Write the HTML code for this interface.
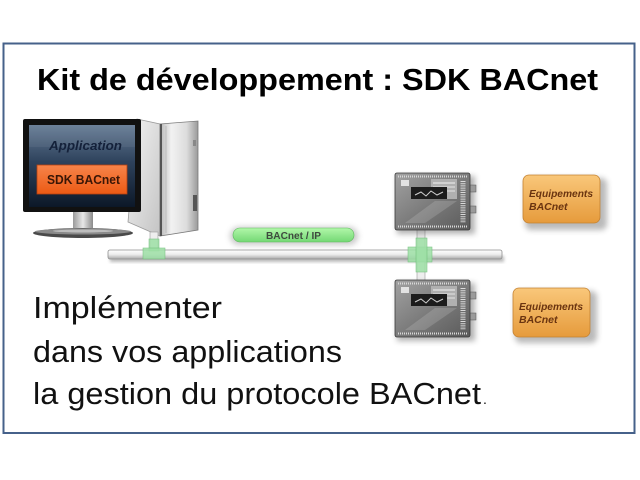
<!DOCTYPE html>
<html><head><meta charset="utf-8">
<style>
html,body{margin:0;padding:0;background:#fff;}
svg{display:block;}
</style></head>
<body>
<svg width="640" height="480" viewBox="0 0 640 480" xmlns="http://www.w3.org/2000/svg">
<defs>
  <linearGradient id="scr" x1="0" y1="0" x2="0" y2="1">
    <stop offset="0" stop-color="#647a94"/>
    <stop offset="0.45" stop-color="#2e425c"/>
    <stop offset="1" stop-color="#0c1828"/>
  </linearGradient>
  <linearGradient id="sdk" x1="0" y1="0" x2="0" y2="1">
    <stop offset="0" stop-color="#f7844a"/>
    <stop offset="1" stop-color="#ec5a14"/>
  </linearGradient>
  <linearGradient id="towerF" x1="0" y1="0" x2="1" y2="0">
    <stop offset="0" stop-color="#b8b8b8"/>
    <stop offset="0.3" stop-color="#f2f2f2"/>
    <stop offset="0.7" stop-color="#dcdcdc"/>
    <stop offset="1" stop-color="#9a9a9a"/>
  </linearGradient>
  <linearGradient id="towerS" x1="0" y1="0" x2="1" y2="1">
    <stop offset="0" stop-color="#f4f4f4"/>
    <stop offset="1" stop-color="#c4c4c4"/>
  </linearGradient>
  <linearGradient id="pipe" x1="0" y1="0" x2="0" y2="1">
    <stop offset="0" stop-color="#ffffff"/>
    <stop offset="0.5" stop-color="#ececec"/>
    <stop offset="1" stop-color="#a8a8a8"/>
  </linearGradient>
  <linearGradient id="pill" x1="0" y1="0" x2="0" y2="1">
    <stop offset="0" stop-color="#b2f7aa"/>
    <stop offset="1" stop-color="#74d874"/>
  </linearGradient>
  <linearGradient id="equip" x1="0" y1="0" x2="0" y2="1">
    <stop offset="0" stop-color="#f9c77a"/>
    <stop offset="1" stop-color="#e69b3c"/>
  </linearGradient>
  <linearGradient id="dev" x1="0" y1="0" x2="1" y2="1">
    <stop offset="0" stop-color="#a2a2a2"/>
    <stop offset="0.5" stop-color="#7c7c7c"/>
    <stop offset="1" stop-color="#5a5a5a"/>
  </linearGradient>
  <linearGradient id="neck" x1="0" y1="0" x2="1" y2="0">
    <stop offset="0" stop-color="#9a9a9a"/>
    <stop offset="0.5" stop-color="#e8e8e8"/>
    <stop offset="1" stop-color="#8a8a8a"/>
  </linearGradient>
  <filter id="blur" x="-30%" y="-30%" width="160%" height="160%">
    <feGaussianBlur stdDeviation="3"/>
  </filter>
  <filter id="blur2" x="-30%" y="-30%" width="160%" height="160%">
    <feGaussianBlur stdDeviation="1.5"/>
  </filter>
</defs>

<rect width="640" height="480" fill="#ffffff"/>

<!-- frame -->
<rect x="3.5" y="43.5" width="631" height="389.5" fill="none" stroke="#46618a" stroke-width="2"/>

<!-- title -->
<text x="37" y="90" font-family="Liberation Sans, sans-serif" font-weight="bold" font-size="31" fill="#000" textLength="561" lengthAdjust="spacingAndGlyphs">Kit de développement : SDK BACnet</text>

<!-- tower -->
<polygon points="137,119 160,124 160,236 128,222" fill="url(#towerS)" stroke="#9a9a9a" stroke-width="0.8"/>
<polygon points="160,124 198,121 198,230 160,236" fill="url(#towerF)" stroke="#7a7a7a" stroke-width="0.8"/>
<line x1="161" y1="124" x2="161" y2="236" stroke="#555" stroke-width="2"/>
<line x1="166" y1="126" x2="166" y2="233" stroke="#bdbdbd" stroke-width="1"/>
<rect x="193" y="195" width="4" height="16" fill="#555"/>
<rect x="193" y="140" width="3" height="6" fill="#888"/>

<!-- monitor -->
<rect x="23" y="119" width="118" height="93" rx="2" fill="#111"/>
<rect x="29" y="125" width="106" height="82" fill="url(#scr)"/>
<rect x="29" y="125" width="106" height="22" fill="#ffffff" opacity="0.06"/>
<text x="85.5" y="150" text-anchor="middle" font-family="Liberation Sans, sans-serif" font-weight="bold" font-style="italic" font-size="12.5" fill="#14213a" textLength="73" lengthAdjust="spacingAndGlyphs">Application</text>
<rect x="37" y="165" width="90" height="29" fill="url(#sdk)" stroke="#b84210" stroke-width="0.8"/>
<text x="83.5" y="184" text-anchor="middle" font-family="Liberation Sans, sans-serif" font-weight="bold" font-size="13" fill="#3a1606" textLength="73" lengthAdjust="spacingAndGlyphs">SDK BACnet</text>
<!-- stand -->
<rect x="73" y="212" width="20" height="16" fill="url(#neck)"/>
<ellipse cx="83" cy="233" rx="50" ry="5" fill="#4a4a4a"/>
<ellipse cx="83" cy="231.5" rx="48" ry="3" fill="#8a8a8a"/>
<ellipse cx="83" cy="231" rx="30" ry="1.5" fill="#bdbdbd"/>

<!-- pipe shadow -->
<rect x="110" y="256" width="394" height="6" fill="#777" opacity="0.5" filter="url(#blur2)"/>
<!-- pipe -->
<rect x="108" y="250" width="394" height="9" rx="2" fill="url(#pipe)" stroke="#8f8f8f" stroke-width="0.8"/>

<!-- tower connector -->
<rect x="150" y="232" width="8" height="18" fill="#eeeeee" stroke="#999" stroke-width="0.6"/>
<rect x="149" y="239" width="10" height="12" fill="#9ee0a6" opacity="0.85" stroke="#6cbc76" stroke-width="0.6"/>
<rect x="143" y="248" width="22" height="11" fill="#9ee0a6" opacity="0.85" stroke="#6cbc76" stroke-width="0.6"/>

<!-- vertical connector to devices -->
<rect x="417" y="229" width="8" height="53" fill="#eeeeee" stroke="#999" stroke-width="0.6"/>
<rect x="408" y="247" width="24" height="15" fill="#9ee0a6" opacity="0.85" stroke="#6cbc76" stroke-width="0.6"/>
<rect x="416" y="238" width="11" height="34" fill="#9ee0a6" opacity="0.85" stroke="#6cbc76" stroke-width="0.6"/>

<!-- BACnet/IP pill -->
<rect x="230" y="227" width="128" height="18" rx="9" fill="#888" opacity="0.45" filter="url(#blur)"/>
<rect x="233" y="228" width="121" height="14" rx="7" fill="url(#pill)" stroke="#5cb85c" stroke-width="0.6"/>
<text x="293.5" y="239" text-anchor="middle" font-family="Liberation Sans, sans-serif" font-weight="bold" font-size="10" fill="#3e4a3e" textLength="55" lengthAdjust="spacingAndGlyphs">BACnet / IP</text>

<!-- device 1 -->
<g transform="translate(395,173)">
  <rect x="2" y="3" width="78" height="58" fill="#555" opacity="0.45" filter="url(#blur)"/>
  <rect x="75" y="12" width="6" height="7" fill="#9a9a9a" stroke="#555" stroke-width="0.5"/>
  <rect x="75" y="33" width="6" height="7" fill="#9a9a9a" stroke="#555" stroke-width="0.5"/>
  <rect x="0" y="0" width="75" height="57" rx="2" fill="url(#dev)" stroke="#3a3a3a" stroke-width="0.8"/>
  <line x1="3" y1="3.5" x2="72" y2="3.5" stroke="#d8d8d8" stroke-width="2" stroke-dasharray="1 1"/>
  <line x1="3" y1="53.5" x2="72" y2="53.5" stroke="#d8d8d8" stroke-width="2" stroke-dasharray="1 1"/>
  <rect x="6" y="7" width="8" height="6" fill="#e2e2e2"/>
  <rect x="36" y="6" width="26" height="20" fill="#b0b0b0"/>
  <line x1="38" y1="10" x2="60" y2="10" stroke="#f2f2f2" stroke-width="1"/>
  <line x1="38" y1="14" x2="60" y2="14" stroke="#e4e4e4" stroke-width="1"/>
  <line x1="38" y1="18" x2="60" y2="18" stroke="#e4e4e4" stroke-width="1"/>
  <rect x="16" y="14" width="36" height="12" fill="#1c1c1c"/>
  <polyline points="20,22 26,19 31,23 36,18 42,22 48,19" fill="none" stroke="#cfcfcf" stroke-width="1"/>
  <line x1="68" y1="8" x2="68" y2="50" stroke="#dadada" stroke-width="5" stroke-dasharray="1 1.2"/>
  <polygon points="10,50 40,28 62,28 30,50" fill="#ffffff" opacity="0.15"/>
</g>

<!-- device 2 -->
<g transform="translate(395,280)">
  <rect x="2" y="3" width="78" height="58" fill="#555" opacity="0.45" filter="url(#blur)"/>
  <rect x="75" y="12" width="6" height="7" fill="#9a9a9a" stroke="#555" stroke-width="0.5"/>
  <rect x="75" y="33" width="6" height="7" fill="#9a9a9a" stroke="#555" stroke-width="0.5"/>
  <rect x="0" y="0" width="75" height="57" rx="2" fill="url(#dev)" stroke="#3a3a3a" stroke-width="0.8"/>
  <line x1="3" y1="3.5" x2="72" y2="3.5" stroke="#d8d8d8" stroke-width="2" stroke-dasharray="1 1"/>
  <line x1="3" y1="53.5" x2="72" y2="53.5" stroke="#d8d8d8" stroke-width="2" stroke-dasharray="1 1"/>
  <rect x="6" y="7" width="8" height="6" fill="#e2e2e2"/>
  <rect x="36" y="6" width="26" height="20" fill="#b0b0b0"/>
  <line x1="38" y1="10" x2="60" y2="10" stroke="#f2f2f2" stroke-width="1"/>
  <line x1="38" y1="14" x2="60" y2="14" stroke="#e4e4e4" stroke-width="1"/>
  <line x1="38" y1="18" x2="60" y2="18" stroke="#e4e4e4" stroke-width="1"/>
  <rect x="16" y="14" width="36" height="12" fill="#1c1c1c"/>
  <polyline points="20,22 26,19 31,23 36,18 42,22 48,19" fill="none" stroke="#cfcfcf" stroke-width="1"/>
  <line x1="68" y1="8" x2="68" y2="50" stroke="#dadada" stroke-width="5" stroke-dasharray="1 1.2"/>
  <polygon points="10,50 40,28 62,28 30,50" fill="#ffffff" opacity="0.15"/>
</g>

<!-- Equipements box 1 -->
<rect x="525" y="178" width="82" height="52" rx="6" fill="#666" opacity="0.45" filter="url(#blur)"/>
<rect x="523" y="175" width="77" height="48" rx="6" fill="url(#equip)" stroke="#c48232" stroke-width="0.8"/>
<text x="529" y="197" font-family="Liberation Sans, sans-serif" font-weight="bold" font-style="italic" font-size="10.5" fill="#6a3410" textLength="64" lengthAdjust="spacingAndGlyphs">Equipements</text>
<text x="529" y="210" font-family="Liberation Sans, sans-serif" font-weight="bold" font-style="italic" font-size="10.5" fill="#6a3410">BACnet</text>

<!-- Equipements box 2 -->
<rect x="515" y="291" width="82" height="52" rx="6" fill="#666" opacity="0.45" filter="url(#blur)"/>
<rect x="513" y="288" width="77" height="49" rx="6" fill="url(#equip)" stroke="#c48232" stroke-width="0.8"/>
<text x="519" y="310" font-family="Liberation Sans, sans-serif" font-weight="bold" font-style="italic" font-size="10.5" fill="#6a3410" textLength="64" lengthAdjust="spacingAndGlyphs">Equipements</text>
<text x="519" y="323" font-family="Liberation Sans, sans-serif" font-weight="bold" font-style="italic" font-size="10.5" fill="#6a3410">BACnet</text>

<!-- body text -->
<text x="33" y="318" font-family="Liberation Sans, sans-serif" font-size="31" fill="#111" textLength="189" lengthAdjust="spacingAndGlyphs">Implémenter</text>
<text x="33" y="362" font-family="Liberation Sans, sans-serif" font-size="31" fill="#111" textLength="309" lengthAdjust="spacingAndGlyphs">dans vos applications</text>
<text x="33" y="404" font-family="Liberation Sans, sans-serif" font-size="31" fill="#111" textLength="448" lengthAdjust="spacingAndGlyphs">la gestion du protocole BACnet</text>
<text x="483" y="404" font-family="Liberation Sans, sans-serif" font-size="14" fill="#111">.</text>
</svg>
</body></html>
